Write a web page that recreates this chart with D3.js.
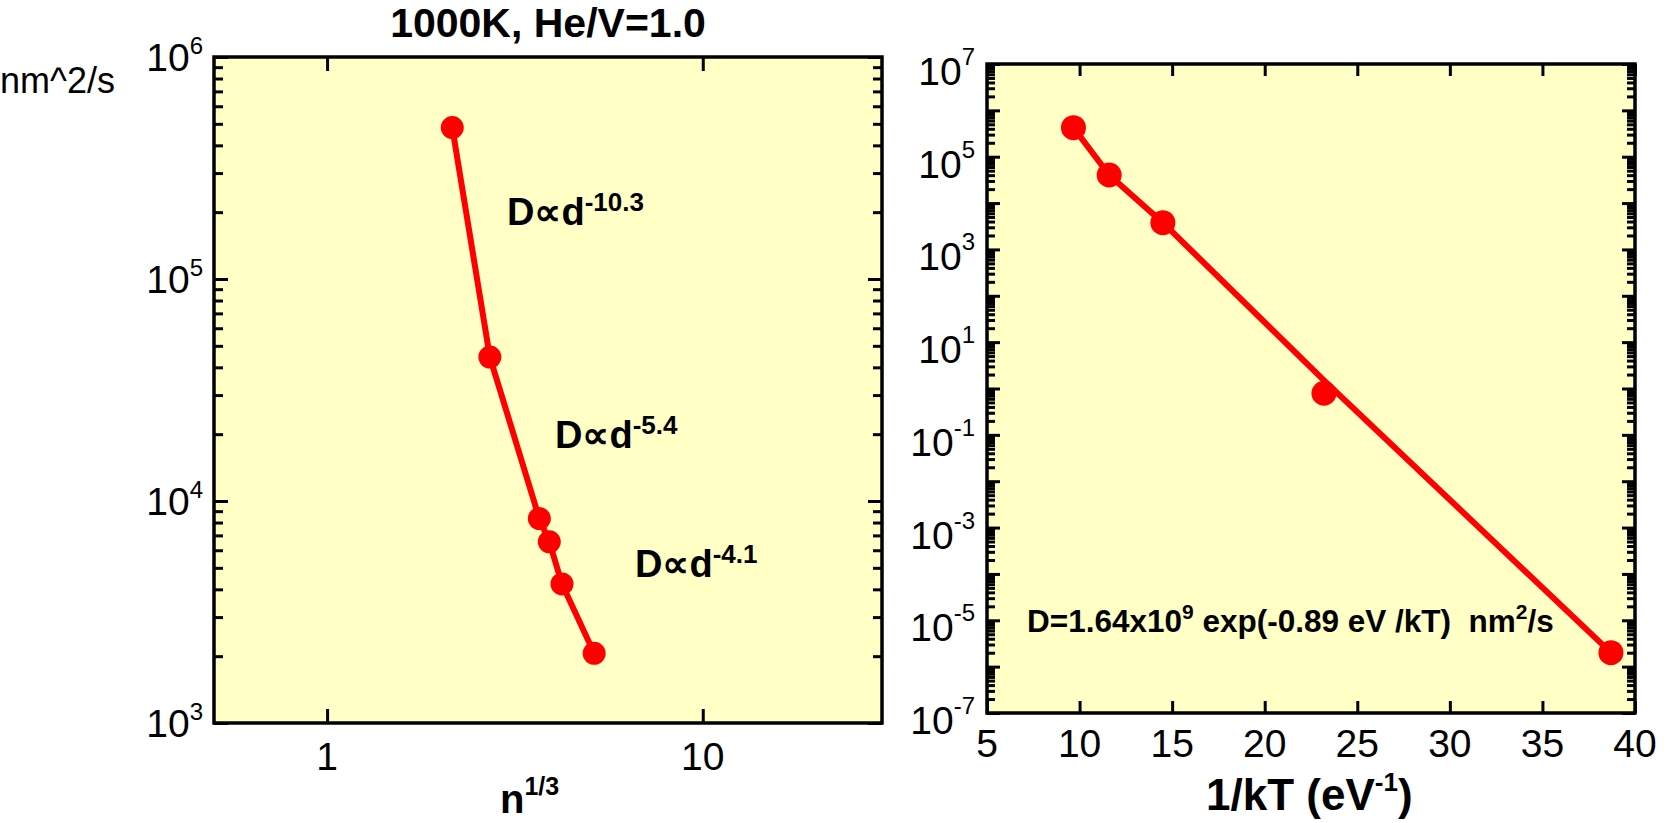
<!DOCTYPE html>
<html><head><meta charset="utf-8">
<script src="https://cdn.jsdelivr.net/npm/d3@7"></script>
<style>
body{margin:0;background:#fff}
svg{display:block}
text{font-family:"Liberation Sans",Arial,Helvetica,sans-serif;fill:#000}
</style>
</head><body>
<svg id="c" width="1669" height="823"></svg>
<script>
// ---- data ----
const leftX = [2.154, 2.712, 3.673, 3.904, 4.22, 5.14];          // n^(1/3)
const leftD = [4.81e5, 4.45e4, 8.33e3, 6.55e3, 4.23e3, 2.06e3];   // nm^2/s
const rightX = [9.67, 11.6, 14.5, 23.2, 38.7];                     // 1/kT
const rightD = [4.23e5, 4.03e4, 3.78e3, 0.79, 2.0e-6];             // markers
const rightLineD = [4.23e5, 4.03e4, 3.78e3, 1.5, 2.0e-6];          // drawn line vertices
const leftXTicks = [1, 10];
const leftXTickLabels = ["1", "10"];
const leftYExp = [3, 4, 5, 6];
const rightXTicks = [5, 10, 15, 20, 25, 30, 35, 40];
const rightYExp = [-7, -5, -3, -1, 1, 3, 5, 7];
const rightYMajorExp = d3.range(-7, 8);
const titleText = "1000K, He/V=1.0";
const slopeLabels = [
  {base: "D\u221Dd", sup: "-10.3"},
  {base: "D\u221Dd", sup: "-5.4"},
  {base: "D\u221Dd", sup: "-4.1"}
];

const svg = d3.select("#c");
const BG = "#FFFFC6", RED = "#FF0000";

// ---- panels ----
const L = {x0: 214, x1: 882, y0: 57, y1: 723};
const R = {x0: 987, x1: 1635, y0: 64, y1: 713};

const xL = d3.scaleLog().domain([0.5, 30]).range([L.x0, L.x1]);
const yL = d3.scaleLog().domain([1e3, 1e6]).range([L.y1, L.y0]);
const xR = d3.scaleLinear().domain([5, 40]).range([R.x0, R.x1]);
const yR = d3.scaleLog().domain([1e-7, 1e7]).range([R.y1, R.y0]);

function minorVals(e0, e1) {
  const v = [];
  for (let e = e0; e < e1; e++) for (let m = 2; m <= 9; m++) v.push(m * Math.pow(10, e));
  return v;
}

function tickSet(g, axisFn, scale, values, size, tr) {
  g.append("g").attr("transform", tr)
    .call(axisFn(scale).tickValues(values).tickSize(-size).tickFormat(""))
    .call(s => s.select(".domain").remove())
    .selectAll("line").attr("stroke", "#000").attr("stroke-width", 3);
}

function panel(P, xS, yS, xMajor, yMajor, yMinor, xSize, yMaj, yMin) {
  const g = svg.append("g");
  g.append("rect").attr("x", P.x0).attr("y", P.y0)
    .attr("width", P.x1 - P.x0).attr("height", P.y1 - P.y0).attr("fill", BG);
  tickSet(g, d3.axisBottom, xS, xMajor, xSize, `translate(0,${P.y1})`);
  tickSet(g, d3.axisTop, xS, xMajor, xSize, `translate(0,${P.y0})`);
  tickSet(g, d3.axisLeft, yS, yMajor, yMaj, `translate(${P.x0},0)`);
  tickSet(g, d3.axisRight, yS, yMajor, yMaj, `translate(${P.x1},0)`);
  tickSet(g, d3.axisLeft, yS, yMinor, yMin, `translate(${P.x0},0)`);
  tickSet(g, d3.axisRight, yS, yMinor, yMin, `translate(${P.x1},0)`);
  return g;
}

const gL = panel(L, xL, yL, leftXTicks, leftYExp.map(e => Math.pow(10, e)), minorVals(3, 6), 14, 14, 9);
const gR = panel(R, xR, yR, rightXTicks, rightYMajorExp.map(e => Math.pow(10, e)), minorVals(-7, 7), 12, 13, 8);

// ---- data marks ----
const lineL = d3.line().x((d, i) => xL(leftX[i])).y(d => yL(d));
gL.append("path").attr("d", lineL(leftD)).attr("fill", "none")
  .attr("stroke", RED).attr("stroke-width", 6).attr("stroke-linejoin", "round");
gL.selectAll("circle").data(leftD).join("circle")
  .attr("cx", (d, i) => xL(leftX[i])).attr("cy", d => yL(d)).attr("r", 11.5).attr("fill", RED);

const lineR = d3.line().x((d, i) => xR(rightX[i])).y(d => yR(d));
gR.append("path").attr("d", lineR(rightLineD)).attr("fill", "none")
  .attr("stroke", RED).attr("stroke-width", 6).attr("stroke-linejoin", "round");
gR.selectAll("circle").data(rightD).join("circle")
  .attr("cx", (d, i) => xR(rightX[i])).attr("cy", d => yR(d)).attr("r", 12.5).attr("fill", RED);

// ---- frames on top ----
[L, R].forEach(P => svg.append("rect").attr("x", P.x0).attr("y", P.y0)
  .attr("width", P.x1 - P.x0).attr("height", P.y1 - P.y0)
  .attr("fill", "none").attr("stroke", "#000").attr("stroke-width", 3.5));

// ---- tick labels ----
function powLabel(x, y, e, dySup) {
  const t = svg.append("text").attr("x", x).attr("y", y).attr("text-anchor", "end")
    .style("font-size", "39px");
  t.append("tspan").text("10");
  t.append("tspan").attr("dy", dySup).style("font-size", "24px").text(e);
}
leftYExp.forEach(e => powLabel(L.x0 - 11, yL(Math.pow(10, e)) + 14, String(e), -17));
rightYExp.forEach(e => powLabel(R.x0 - 12, yR(Math.pow(10, e)) + 21, String(e), -20));

leftXTicks.forEach((v, i) => svg.append("text").attr("x", xL(v)).attr("y", L.y1 + 47)
  .attr("text-anchor", "middle").style("font-size", "39px").text(leftXTickLabels[i]));
rightXTicks.forEach(v => svg.append("text").attr("x", xR(v)).attr("y", R.y1 + 44)
  .attr("text-anchor", "middle").style("font-size", "39px").text(String(v)));

// ---- titles ----
svg.append("text").attr("x", (L.x0 + L.x1) / 2).attr("y", 37).attr("text-anchor", "middle")
  .style("font-size", "41px").style("font-weight", "bold").text(titleText);

svg.append("text").attr("x", 0).attr("y", 93).style("font-size", "36px").text("nm^2/s");

const xt1 = svg.append("text").attr("x", 500).attr("y", 813).style("font-size", "40px").style("font-weight", "bold");
xt1.append("tspan").text("n");
xt1.append("tspan").attr("dy", -18).style("font-size", "25px").text("1/3");

const xt2 = svg.append("text").attr("x", 1206).attr("y", 810).style("font-size", "44px").style("font-weight", "bold");
xt2.append("tspan").text("1/kT (eV");
xt2.append("tspan").attr("dy", -19).style("font-size", "26px").text("-1");
xt2.append("tspan").attr("dy", 19).text(")");

// ---- annotations ----
const annPos = [[507, 225], [555, 448], [635, 577]];
slopeLabels.forEach((a, i) => {
  const t = svg.append("text").attr("x", annPos[i][0]).attr("y", annPos[i][1])
    .style("font-size", "38px").style("font-weight", "bold");
  t.append("tspan").text(a.base);
  t.append("tspan").attr("dy", -14).style("font-size", "26px").text(a.sup);
});

const eq = svg.append("text").attr("x", 1027).attr("y", 632)
  .style("font-size", "31.5px").style("font-weight", "bold").style("white-space", "pre");
eq.append("tspan").text("D=1.64x10");
eq.append("tspan").attr("dy", -13).style("font-size", "21px").text("9");
eq.append("tspan").attr("dy", 13).text(" exp(-0.89 eV /kT)  nm");
eq.append("tspan").attr("dy", -13).style("font-size", "21px").text("2");
eq.append("tspan").attr("dy", 13).text("/s");
</script>
</body></html>
